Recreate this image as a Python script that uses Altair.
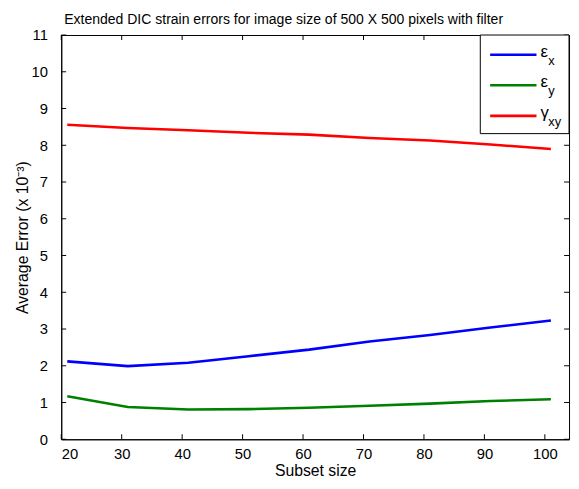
import altair as alt
import pandas as pd

subset = [21, 31, 41, 51, 61, 71, 81, 91, 101]
eps_x = [2.12, 1.99, 2.08, 2.26, 2.44, 2.66, 2.84, 3.04, 3.23]
eps_y = [1.17, 0.88, 0.81, 0.82, 0.86, 0.91, 0.97, 1.04, 1.09]
gam_xy = [8.56, 8.47, 8.41, 8.34, 8.29, 8.20, 8.13, 8.02, 7.90]
series = ["ex", "ey", "gxy"]
colors = ["#0000ff", "#008000", "#ff0000"]
x_ticks = [20, 30, 40, 50, 60, 70, 80, 90, 100]
y_ticks = [0, 1, 2, 3, 4, 5, 6, 7, 8, 9, 10, 11]
title_text = "Extended DIC strain errors for image size of 500 X 500 pixels with filter"

rows = []
for name, vals in zip(series, [eps_x, eps_y, gam_xy]):
    for s, v in zip(subset, vals):
        rows.append({"subset": s, "err": v, "series": name})
df = pd.DataFrame(rows)

W, H = 515, 410
FONT = "Liberation Sans"

xs = alt.Scale(domain=[20, 104], nice=False, zero=False)
ys = alt.Scale(domain=[0, 11], nice=False)

x_axis = alt.Axis(values=x_ticks, title="Subset size", labelPadding=7, titlePadding=2)
y_axis = alt.Axis(values=y_ticks, title="Average Error (x 10⁻³)", labelPadding=14, titlePadding=1)

lines = alt.Chart(df).mark_line(strokeWidth=2.6).encode(
    x=alt.X("subset:Q", scale=xs, axis=x_axis),
    y=alt.Y("err:Q", scale=ys, axis=y_axis),
    color=alt.Color("series:N", scale=alt.Scale(domain=series, range=colors), legend=None),
    detail="series:N",
)

xdf = pd.DataFrame({"subset": x_ticks})
ydf = pd.DataFrame({"err": y_ticks})
xb = alt.Chart(xdf).mark_tick(color="black", thickness=1, size=5, opacity=1).encode(
    x=alt.X("subset:Q", scale=xs, axis=x_axis), y=alt.value(H - 2.5))
xtop = alt.Chart(xdf).mark_tick(color="black", thickness=1, size=5, opacity=1).encode(
    x=alt.X("subset:Q", scale=xs, axis=x_axis), y=alt.value(2.5))
yl = alt.Chart(ydf).mark_tick(color="black", thickness=1, size=5, opacity=1).encode(
    y=alt.Y("err:Q", scale=ys, axis=y_axis), x=alt.value(2.5))
yr = alt.Chart(ydf).mark_tick(color="black", thickness=1, size=5, opacity=1).encode(
    y=alt.Y("err:Q", scale=ys, axis=y_axis), x=alt.value(W - 2.5))

# title as a text mark above the plot
title = alt.Chart(pd.DataFrame({"t": [title_text]})).mark_text(
    align="left", baseline="alphabetic", fontSize=14.2, font=FONT, color="black").encode(
    x=alt.value(3), y=alt.value(-11), text="t:N")

# legend box
leg_names = ["ε", "ε", "γ"]
leg_subs = ["x", "y", "xy"]
leg_df = pd.DataFrame({"series": series, "name": leg_names, "sub": leg_subs,
                       "ypos": [20, 51, 82]})
box = alt.Chart(pd.DataFrame({"a": [0]})).mark_rect(fill="white", stroke="black", strokeWidth=1).encode(
    x=alt.value(425), x2=alt.value(W), y=alt.value(0), y2=alt.value(100))
leg_lines = alt.Chart(leg_df).mark_rule(strokeWidth=2.6).encode(
    x=alt.value(435), x2=alt.value(482), y=alt.Y("ypos:Q", scale=None),
    color=alt.Color("series:N", scale=alt.Scale(domain=series, range=colors), legend=None))
leg_text = alt.Chart(leg_df).mark_text(align="left", baseline="middle", fontSize=17, font=FONT, dy=-3).encode(
    x=alt.value(486), y=alt.Y("ypos:Q", scale=None), text="name:N", color=alt.value("black"))
leg_sub = alt.Chart(leg_df).mark_text(align="left", baseline="middle", fontSize=13, font=FONT, dy=6).encode(
    x=alt.value(494), y=alt.Y("ypos:Q", scale=None), text="sub:N", color=alt.value("black"))

chart = alt.layer(lines, xb, xtop, yl, yr, box, leg_lines, leg_text, leg_sub, title).properties(
    width=W, height=H,
    background="white",
    autosize=alt.AutoSizeParams(type="none"),
    padding={"left": 54, "top": 24, "right": 2, "bottom": 45},
).configure_view(stroke="black", strokeWidth=1).configure_axis(
    ticks=False, grid=False, labelOverlap=False, labelFontSize=15, titleFontSize=16,
    labelFont=FONT, titleFont=FONT, labelColor="black", titleColor="black",
    titleFontWeight="normal", domainColor="black"
)

chart.save("out.html", embed_options={"renderer": "svg", "actions": False})
